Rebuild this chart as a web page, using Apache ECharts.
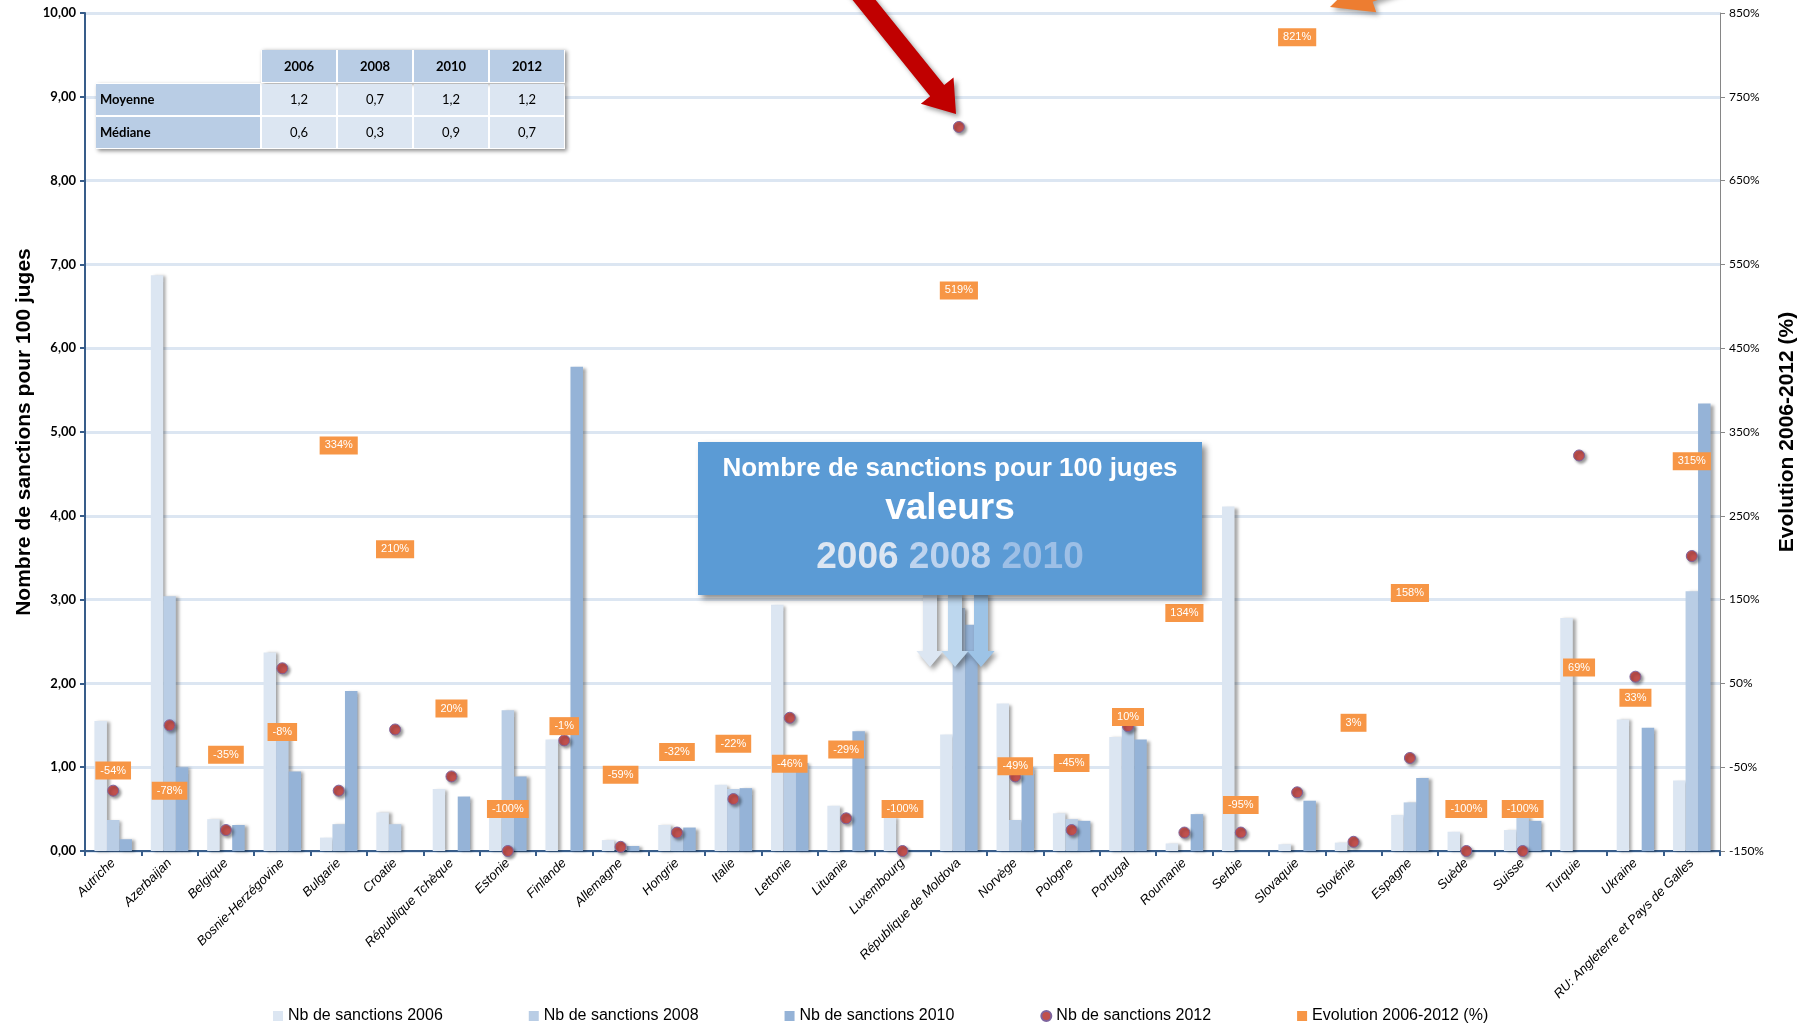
<!DOCTYPE html>
<html lang="fr">
<head>
<meta charset="UTF-8">
<title>Sanctions pour 100 juges</title>
<script src="https://cdn.jsdelivr.net/npm/echarts@6/dist/echarts.min.js"></script>
<style>
  html, body { margin: 0; background: #fff; }
  #chart { width: 1811px; height: 1024px; }
</style>
</head>
<body>
<div id="chart"></div>
<script>
const countries = ['Autriche', 'Azerbaijan', 'Belgique', 'Bosnie-Herzégovine', 'Bulgarie', 'Croatie',
  'République Tchèque', 'Estonie', 'Finlande', 'Allemagne', 'Hongrie', 'Italie', 'Lettonie', 'Lituanie',
  'Luxembourg', 'République de Moldova', 'Norvège', 'Pologne', 'Portugal', 'Roumanie', 'Serbie',
  'Slovaquie', 'Slovénie', 'Espagne', 'Suède', 'Suisse', 'Turquie', 'Ukraine',
  'RU: Angleterre et Pays de Galles'];

const s2006 = [1.55, 6.87, 0.38, 2.37, 0.16, 0.46, 0.74, 0.42, 1.33, 0.13, 0.31, 0.79, 2.94, 0.54, 0.40,
  1.39, 1.76, 0.45, 1.36, 0.09, 4.11, 0.08, 0.10, 0.43, 0.23, 0.25, 2.78, 1.57, 0.84];
const s2008 = [0.37, 3.04, null, 1.40, 0.32, 0.32, null, 1.68, null, null, 0.24, 0.74, 0.97, null, null,
  2.90, 0.37, 0.38, 1.49, null, null, null, null, 0.58, null, 0.42, null, null, 3.10];
const s2010 = [0.14, 1.00, 0.31, 0.95, 1.91, null, 0.65, 0.89, 5.78, 0.06, 0.28, 0.75, 1.05, 1.43, null,
  2.70, 1.00, 0.36, 1.33, 0.44, null, 0.60, null, 0.87, null, 0.36, null, 1.47, 5.34];
const s2012 = [0.72, 1.50, 0.25, 2.18, 0.72, 1.45, 0.89, 0.00, 1.32, 0.05, 0.22, 0.62, 1.59, 0.39, 0.00,
  8.64, 0.89, 0.25, 1.49, 0.22, 0.22, 0.70, 0.11, 1.11, 0.00, 0.00, 4.72, 2.08, 3.52];
const evolution = [-54, -78, -35, -8, 334, 210, 20, -100, -1, -59, -32, -22, -46, -29, -100, 519, -49,
  -45, 10, 134, -95, 821, 3, 158, -100, -100, 69, 33, 315];

// petit tableau en haut à gauche
const tableYears = ['2006', '2008', '2010', '2012'];
const tableRows = ['Moyenne', 'Médiane'];
const tableMoyenne = ['1,2', '0,7', '1,2', '1,2'];
const tableMediane = ['0,6', '0,3', '0,9', '0,7'];

// l'axe de droite va de -150% à 850% : on décale pour garder min multiple de l'intervalle
const EVO_SHIFT = 150;

const C06 = '#DCE6F2', C08 = '#B9CDE5', C10 = '#95B3D7';
const FONT = '"Liberation Sans", Arial, sans-serif';
const CAL = 'Lato, "Open Sans", sans-serif';

const barShadow = { shadowColor: 'rgba(0,0,0,0.35)', shadowBlur: 3, shadowOffsetX: 3, shadowOffsetY: 1 };

function arrowPoints(x1, y1, x2, y2, shaftW, headW, headL) {
  const len = Math.hypot(x2 - x1, y2 - y1);
  const dx = (x2 - x1) / len, dy = (y2 - y1) / len;
  const nx = -dy, ny = dx;
  const bx = x2 - dx * headL, by = y2 - dy * headL;
  const s = shaftW / 2, h = headW / 2;
  return [
    [x1 + nx * s, y1 + ny * s], [bx + nx * s, by + ny * s], [bx + nx * h, by + ny * h],
    [x2, y2],
    [bx - nx * h, by - ny * h], [bx - nx * s, by - ny * s], [x1 - nx * s, y1 - ny * s]
  ];
}

const graphics = [];

// tableau
const tX = 96, tY = 50, firstW = 165, colW = 76, rowH = 33;
graphics.push({
  type: 'rect', z: 50,
  shape: { x: tX, y: tY + rowH, width: firstW + colW * 4, height: rowH * 2 },
  style: { fill: '#fff', shadowColor: 'rgba(0,0,0,0.45)', shadowBlur: 4, shadowOffsetX: 2, shadowOffsetY: 2 }
});
graphics.push({
  type: 'rect', z: 50,
  shape: { x: tX + firstW, y: tY, width: colW * 4, height: rowH },
  style: { fill: '#fff', shadowColor: 'rgba(0,0,0,0.45)', shadowBlur: 4, shadowOffsetX: 2, shadowOffsetY: 1 }
});
tableYears.forEach((yr, i) => {
  graphics.push({
    type: 'rect', z: 51,
    shape: { x: tX + firstW + colW * i + 1, y: tY, width: colW - 2, height: rowH - 1 },
    style: { fill: C08 }
  });
  graphics.push({
    type: 'text', z: 52,
    style: { text: yr, x: tX + firstW + colW * i + colW / 2, y: tY + rowH / 2,
      align: 'center', verticalAlign: 'middle', textAlign: 'center', textVerticalAlign: 'middle',
      font: 'bold 13px ' + CAL, fill: '#000' }
  });
});
[tableMoyenne, tableMediane].forEach((vals, r) => {
  const y = tY + rowH * (r + 1);
  graphics.push({
    type: 'rect', z: 51,
    shape: { x: tX, y: y + 1, width: firstW - 1, height: rowH - 2 },
    style: { fill: C08 }
  });
  graphics.push({
    type: 'text', z: 52,
    style: { text: tableRows[r], x: tX + 4, y: y + rowH / 2,
      align: 'left', verticalAlign: 'middle', textAlign: 'left', textVerticalAlign: 'middle',
      font: 'bold 13px ' + CAL, fill: '#000' }
  });
  vals.forEach((v, i) => {
    graphics.push({
      type: 'rect', z: 51,
      shape: { x: tX + firstW + colW * i + 1, y: y + 1, width: colW - 2, height: rowH - 2 },
      style: { fill: C06 }
    });
    graphics.push({
      type: 'text', z: 52,
      style: { text: v, x: tX + firstW + colW * i + colW / 2, y: y + rowH / 2,
        align: 'center', verticalAlign: 'middle', textAlign: 'center', textVerticalAlign: 'middle',
        font: '13px ' + CAL, fill: '#000' }
    });
  });
});

// flèche rouge vers la Moldavie, flèche orange vers 821%
graphics.push({
  type: 'polygon', z: 60,
  shape: { points: arrowPoints(848, -20, 956, 114, 18, 42, 30) },
  style: { fill: '#C00000', shadowColor: 'rgba(0,0,0,0.4)', shadowBlur: 5, shadowOffsetX: 3, shadowOffsetY: 3 }
});
graphics.push({
  type: 'polygon', z: 60,
  shape: { points: arrowPoints(1480, -45, 1330, 7, 18, 40, 42) },
  style: { fill: '#ED7D31', shadowColor: 'rgba(0,0,0,0.35)', shadowBlur: 5, shadowOffsetX: 3, shadowOffsetY: 3 }
});

// encadré bleu
graphics.push({
  type: 'rect', z: 60,
  shape: { x: 698, y: 442, width: 504, height: 153 },
  style: { fill: '#5B9BD5', shadowColor: 'rgba(0,0,0,0.45)', shadowBlur: 6, shadowOffsetX: 4, shadowOffsetY: 4 }
});
graphics.push({
  type: 'text', z: 61,
  style: { text: 'Nombre de sanctions pour 100 juges', x: 950, y: 469,
    align: 'center', verticalAlign: 'middle', textAlign: 'center', textVerticalAlign: 'middle',
    font: 'bold 26px ' + FONT, fill: '#fff' }
});
graphics.push({
  type: 'text', z: 61,
  style: { text: 'valeurs', x: 950, y: 509,
    align: 'center', verticalAlign: 'middle', textAlign: 'center', textVerticalAlign: 'middle',
    font: 'bold 37px ' + FONT, fill: '#fff' }
});
graphics.push({
  type: 'text', z: 61,
  style: { text: '{a|2006} {b|2008} {c|2010}', x: 950, y: 558,
    align: 'center', verticalAlign: 'middle', textAlign: 'center', textVerticalAlign: 'middle',
    font: 'bold 37px ' + FONT,
    rich: {
      a: { fill: '#DCE6F2', font: 'bold 37px ' + FONT },
      b: { fill: '#BDD3EE', font: 'bold 37px ' + FONT },
      c: { fill: '#9DBFE6', font: 'bold 37px ' + FONT }
    } }
});
[['#DCE6F2', 930], ['#BDD7EE', 955], ['#9DC3E6', 981]].forEach(([col, x]) => {
  graphics.push({
    type: 'polygon', z: 59,
    shape: { points: arrowPoints(x, 592, x, 667, 14, 27, 16) },
    style: { fill: col, shadowColor: 'rgba(0,0,0,0.4)', shadowBlur: 5, shadowOffsetX: 3, shadowOffsetY: 3 }
  });
});

const chart = echarts.init(document.getElementById('chart'));
chart.setOption({
  backgroundColor: '#fff',
  animation: false,
  textStyle: { fontFamily: FONT },
  grid: { left: 85, right: 91, top: 13, bottom: 173 },
  legend: {
    top: 1003, left: 268, itemGap: 86, itemWidth: 10, itemHeight: 10,
    textStyle: { fontSize: 16, color: '#000', fontFamily: FONT },
    data: [
      { name: 'Nb de sanctions 2006', icon: 'rect' },
      { name: 'Nb de sanctions 2008', icon: 'rect' },
      { name: 'Nb de sanctions 2010', icon: 'rect' },
      { name: 'Nb de sanctions 2012', icon: 'circle' },
      { name: 'Evolution 2006-2012 (%)', icon: 'rect', itemStyle: { color: '#F79646', opacity: 1 } }
    ]
  },
  xAxis: {
    type: 'category', data: countries,
    axisLine: { lineStyle: { color: '#385D8A', width: 2 } },
    axisTick: { show: true, length: 5, lineStyle: { color: '#385D8A', width: 2 } },
    axisLabel: { interval: 0, rotate: 45, fontSize: 13, fontStyle: 'italic', color: '#000', margin: 10 }
  },
  yAxis: [
    {
      type: 'value', min: 0, max: 10, interval: 1,
      name: 'Nombre de sanctions pour 100 juges', nameLocation: 'middle', nameGap: 50, nameRotate: 90,
      nameMoveOverlap: false,
      nameTextStyle: { fontSize: 21, fontWeight: 'bold', color: '#000' },
      axisLine: { show: true, lineStyle: { color: '#385D8A', width: 2 } },
      axisTick: { show: true, length: 5, lineStyle: { color: '#385D8A', width: 2 } },
      axisLabel: { formatter: v => v.toFixed(2).replace('.', ','), fontSize: 13, fontWeight: 'bold',
        color: '#000', fontFamily: CAL, margin: 9 },
      splitLine: { lineStyle: { color: '#DCE6F2', width: 3 } }
    },
    {
      type: 'value', min: 0, max: 1000, interval: 100,
      name: 'Evolution 2006-2012 (%)', nameLocation: 'middle', nameGap: 57, nameRotate: 90,
      nameTextStyle: { fontSize: 21, fontWeight: 'bold', color: '#000' },
      axisLine: { show: true, lineStyle: { color: '#868686', width: 1 } },
      axisTick: { show: true, length: 5, lineStyle: { color: '#868686' } },
      axisLabel: { formatter: v => (v - EVO_SHIFT) + '%', fontSize: 12, color: '#000', fontFamily: CAL, margin: 9 },
      splitLine: { show: false }
    }
  ],
  series: [
    { name: 'Nb de sanctions 2006', type: 'bar', data: s2006, barWidth: 12.5, barGap: '0%',
      itemStyle: Object.assign({ color: C06 }, barShadow) },
    { name: 'Nb de sanctions 2008', type: 'bar', data: s2008, barWidth: 12.5, barGap: '0%',
      itemStyle: Object.assign({ color: C08 }, barShadow) },
    { name: 'Nb de sanctions 2010', type: 'bar', data: s2010, barWidth: 12.5, barGap: '0%',
      itemStyle: Object.assign({ color: C10 }, barShadow) },
    { name: 'Nb de sanctions 2012', type: 'scatter', data: s2012, symbolSize: 11, z: 3,
      itemStyle: { color: '#C0504D', opacity: 1, borderColor: '#7E649E', borderWidth: 1,
        shadowColor: 'rgba(0,0,0,0.4)', shadowBlur: 3, shadowOffsetX: 2, shadowOffsetY: 2 } },
    { name: 'Evolution 2006-2012 (%)', type: 'scatter', yAxisIndex: 1, z: 4,
      data: evolution.map(v => v + EVO_SHIFT), symbol: 'rect', symbolSize: 1,
      itemStyle: { color: 'rgba(0,0,0,0)', opacity: 1 },
      label: { show: true, position: 'inside', formatter: p => evolution[p.dataIndex] + '%', opacity: 1,
        backgroundColor: '#F79646', color: '#fff', fontSize: 11, padding: [4, 5, 3, 5], fontFamily: FONT } }
  ],
  graphic: graphics
});
</script>
</body>
</html>
